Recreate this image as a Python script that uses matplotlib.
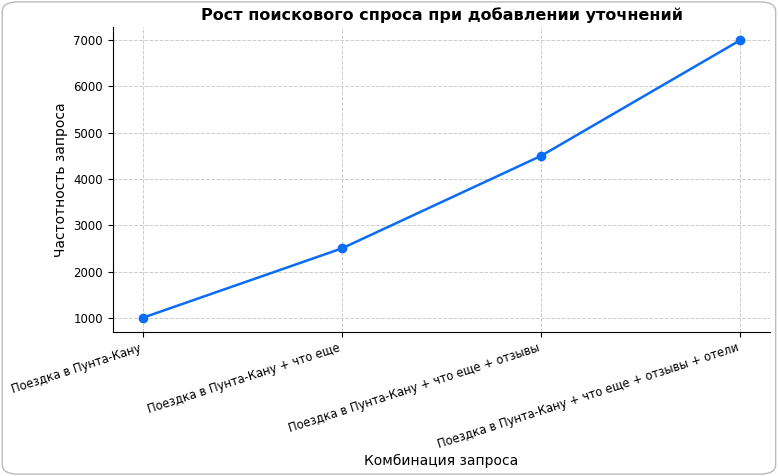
import matplotlib.pyplot as plt
from matplotlib.patches import FancyBboxPatch

queries = [
    "Поездка в Пунта-Кану",
    "Поездка в Пунта-Кану + что еще",
    "Поездка в Пунта-Кану + что еще + отзывы",
    "Поездка в Пунта-Кану + что еще + отзывы + отели",
]
frequency = [1000, 2500, 4500, 7000]

fig = plt.figure(figsize=(7.78, 4.76), dpi=100)
ax = fig.add_axes([0.145, 0.303, 0.845, 0.64])

x = range(len(queries))
ax.plot(x, frequency, color="#0a6cf5", linewidth=1.8, marker="o", markersize=6)

ax.set_xlim(-0.15, 3.15)
ax.set_ylim(698, 7281)
ax.set_xticks(list(x))
ax.set_xticklabels(queries, rotation=18, ha="right", fontsize=8.3)
ax.tick_params(axis="y", labelsize=8.5)
ax.set_yticks(range(1000, 7001, 1000))
ax.grid(True, linestyle="--", color="#cccccc", linewidth=0.7)
for side in ("top", "right"):
    ax.spines[side].set_visible(False)

ax.set_title("Рост поискового спроса при добавлении уточнений",
             fontsize=11.5, fontweight="bold", pad=5)
ax.set_ylabel("Частотность запроса", fontsize=10)
fig.text(0.567, 0.031, "Комбинация запроса", ha="center", va="center", fontsize=10)

# rounded light frame around the picture
frame = FancyBboxPatch((0.003, 0.004), 0.994, 0.992, boxstyle="round,pad=0,rounding_size=0.02",
                       transform=fig.transFigure, fill=False, edgecolor="#bbbbbb", linewidth=1)
fig.patches.append(frame)

fig.savefig("out.png", dpi=100)
